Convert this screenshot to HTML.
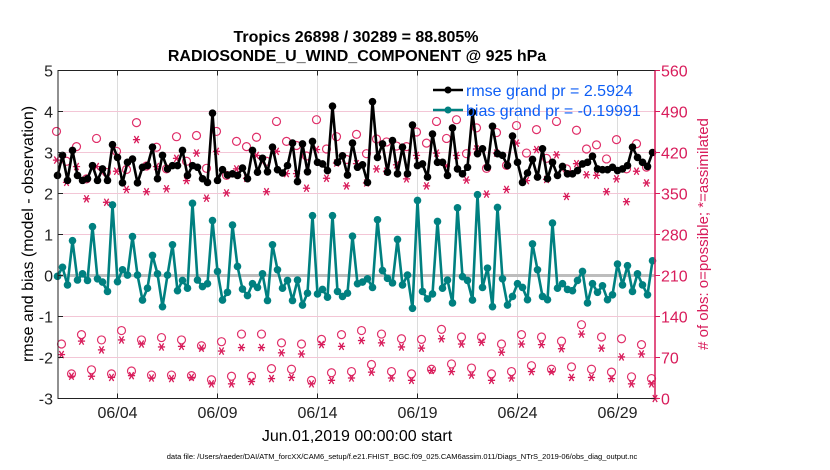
<!DOCTYPE html>
<html><head><meta charset="utf-8"><style>
body{margin:0;background:#fff;width:830px;height:470px;overflow:hidden}
svg{display:block;font-family:"Liberation Sans",Arial,sans-serif}
</style></head><body>
<svg id="chart" width="830" height="470" viewBox="0 0 830 470" xmlns="http://www.w3.org/2000/svg">
<text x="356" y="42" text-anchor="middle" font-size="16" font-weight="bold">Tropics 26898 / 30289 = 88.805%</text>
<text x="357" y="61" text-anchor="middle" font-size="16" font-weight="bold">RADIOSONDE_U_WIND_COMPONENT @ 925 hPa</text>
<g id="grid"></g>
<g id="marks"></g>
<g id="axes"></g>
<g>
<line x1="433" y1="90" x2="463" y2="90" stroke="#000" stroke-width="2.5"/>
<circle cx="448" cy="90" r="3.5" fill="#000"/>
<text x="466" y="96" font-size="16" fill="#0d5ef5">rmse grand pr = 2.5924</text>
<line x1="433" y1="110" x2="463" y2="110" stroke="#008080" stroke-width="2.5"/>
<circle cx="448" cy="110" r="3.5" fill="#008080"/>
<text x="466" y="116" font-size="16" fill="#0d5ef5">bias grand pr = -0.19991</text>
</g>
<text transform="translate(33,234) rotate(-90)" text-anchor="middle" font-size="16">rmse and bias (model - observation)</text>
<text transform="translate(708,234) rotate(-90)" text-anchor="middle" font-size="15" fill="#d81b5a"># of obs: o=possible; *=assimilated</text>
<text x="357" y="441" text-anchor="middle" font-size="16">Jun.01,2019 00:00:00 start</text>
<text x="402" y="459" text-anchor="middle" font-size="7.5">data file: /Users/raeder/DAI/ATM_forcXX/CAM6_setup/f.e21.FHIST_BGC.f09_025.CAM6assim.011/Diags_NTrS_2019-06/obs_diag_output.nc</text>
</svg>
<script>
const rmse=[2.44,2.93,2.32,3.05,2.44,2.32,2.36,2.68,2.32,2.6,2.32,3.19,2.88,2.26,2.76,2.84,2.26,2.64,2.68,3.13,2.36,2.93,2.6,2.68,2.68,3.05,2.44,2.68,2.64,2.36,2.27,
3.96,2.32,2.58,2.45,2.48,2.44,2.62,2.36,3.05,2.52,2.86,2.53,3.13,2.58,2.5,2.68,3.23,2.29,3.21,2.53,3.27,2.76,2.72,2.56,4.13,2.76,2.92,2.45,3.23,2.64,
2.70,2.27,4.24,2.88,3.21,2.52,3.29,2.48,3.13,2.48,3.67,2.68,2.72,2.4,3.45,2.76,2.76,2.44,3.6,2.6,2.48,2.64,3.98,2.97,3.09,2.64,3.64,2.97,2.93,
2.68,3.4,2.76,2.27,2.5,2.83,2.4,3.09,2.36,2.76,2.44,2.66,2.48,2.48,2.56,2.72,2.76,2.91,2.6,2.58,2.58,2.64,2.56,2.6,2.68,3.13,2.88,2.76,2.66,3.0];
const bias=[-0.02,0.2,-0.23,0.85,-0.11,0.04,-0.12,1.19,-0.08,-0.16,-0.39,1.72,-0.15,0.14,0.01,0.95,0.01,-0.6,-0.31,0.49,0.04,-0.76,0.01,0.75,-0.37,-0.12,-0.31,1.76,-0.11,-0.27,-0.2,
1.34,0.1,-0.6,-0.41,1.23,0.22,-0.33,-0.49,-0.2,-0.29,0.04,-0.61,0.75,0.14,-0.31,-0.12,-0.61,-0.11,-0.72,-0.43,1.46,-0.45,-0.34,-0.53,1.46,-0.39,-0.51,-0.43,0.96,-0.2,
-0.16,-0.08,-0.29,1.36,0.12,-0.07,-0.18,0.88,-0.23,0.01,-0.8,1.83,-0.39,-0.57,-0.45,1.32,-0.31,-0.11,-0.67,1.65,-0.03,-0.12,-0.6,1.97,-0.29,0.18,-0.76,1.66,-0.08,
-0.72,-0.51,-0.2,-0.29,-0.59,0.77,0.14,-0.51,-0.59,1.28,-0.31,-0.2,-0.34,-0.37,-0.12,0.1,-0.67,-0.2,-0.41,-0.25,-0.59,-0.47,0.28,-0.23,0.24,-0.39,0.04,-0.23,-0.47,0.36];
const obsPossible=[456,93,405,42,430,109,375,49,444,100,386,42,422,116,391,47,471,100,397,40,429,104,392,40,447,100,405,39,449,90,
393,32,456,97,381,38,439,110,430,38,446,110,405,51,473,95,439,50,432,93,414,31,476,101,426,44,447,109,408,46,
451,116,418,58,443,110,438,46,431,102,430,42,455,101,436,50,473,118,444,59,476,105,418,52,462,105,393,42,454,93,
398,46,466,109,419,56,459,105,410,50,473,98,392,54,458,126,426,50,433,105,409,45,442,102,392,37,435,92,395,34];
const obsAssim=[407,75,369,38,396,98,341,38,396,83,335,36,388,100,357,39,442,93,353,35,396,88,358,34,410,89,372,36,419,86,
342,25,422,81,351,25,392,87,376,29,415,87,353,34,422,78,384,36,384,76,359,25,425,92,376,31,402,89,363,35,
401,99,368,45,392,95,388,35,399,88,375,31,415,86,363,48,419,102,397,46,415,93,373,40,426,96,349,31,419,79,
357,35,436,93,372,46,425,92,374,46,416,85,345,36,401,110,382,36,381,86,353,34,375,71,336,25,388,76,368,25];
const dayTicks=[3,8,13,18,23,28];
const dayLabels=["06/04","06/09","06/14","06/19","06/24","06/29"];
const leftTicks=[5,4,3,2,1,0,-1,-2,-3];
const rightTicks=[560,490,420,350,280,210,140,70,0];
const stepDays=0.25;

const NS="http://www.w3.org/2000/svg";
const L=58,R=655,T=70.5,B=398.5;
const xS=t=>57.5+20*t;
const yL=v=>T+(5-v)*(B-T)/8;
const yR=v=>B-v*(B-T)/560;
function mk(tag,attrs,parent){const e=document.createElementNS(NS,tag);for(const k in attrs)e.setAttribute(k,attrs[k]);parent.appendChild(e);return e;}
const grid=document.getElementById('grid'),marks=document.getElementById('marks'),axes=document.getElementById('axes');
dayTicks.forEach((d,i)=>{
 const g=mk('line',{x1:xS(d),x2:xS(d),y1:T,y2:B,stroke:'#dcdcdc','stroke-width':1},grid);
 
 
 const t=mk('text',{x:xS(d),y:418,'text-anchor':'middle','font-size':16,fill:'#222'},axes);
 t.textContent=dayLabels[i];
 
 
 mk('line',{x1:xS(d),x2:xS(d),y1:T,y2:T+5,stroke:'#222'},axes);
 mk('line',{x1:xS(d),x2:xS(d),y1:B,y2:B-5,stroke:'#222'},axes);
});
rightTicks.forEach(v=>{
 const g=mk('line',{x1:L,x2:R,y1:yR(v),y2:yR(v),stroke:'#f3c6d6','stroke-width':1},grid);
 
 
 const t=mk('text',{x:661,y:yR(v)+6,'font-size':16,fill:'#d81b5a'},axes);
 t.textContent=v;
 
 
 mk('line',{x1:R,x2:R+5,y1:yR(v),y2:yR(v),stroke:'#d81b5a'},axes);
});
leftTicks.forEach(v=>{
 const t=mk('text',{x:53,y:yL(v)+6,'text-anchor':'end','font-size':16,fill:'#222'},axes);
 t.textContent=v;
 
 
 mk('line',{x1:L,x2:L+5,y1:yL(v),y2:yL(v),stroke:'#222'},axes);
});
const zl=mk('line',{x1:L,x2:R,y1:yL(0),y2:yL(0),stroke:'#bdbdbd','stroke-width':3},grid);


mk('rect',{x:L,y:T,width:R-L,height:B-T,fill:'none',stroke:'#222','stroke-width':1},axes);
mk('line',{x1:R,x2:R,y1:T,y2:B,stroke:'#d81b5a','stroke-width':1.5},axes);

function star(x,y,parent){
 const s=3.6,g=mk('g',{stroke:'#d81b5a','stroke-width':1.3},parent);
 mk('line',{x1:x-s,x2:x+s,y1:y,y2:y},g);
 mk('line',{x1:x-s*0.6,x2:x+s*0.6,y1:y-s,y2:y+s},g);
 mk('line',{x1:x-s*0.6,x2:x+s*0.6,y1:y+s,y2:y-s},g);
 return g;
}
obsPossible.forEach((v,i)=>{
 const c=mk('circle',{cx:xS(i*stepDays)-1,cy:yR(v),r:4,fill:'none',stroke:'#e0306a','stroke-width':1.2},marks);
 
 
});
obsAssim.forEach((v,i)=>{
 const g=star(xS(i*stepDays)-1,yR(v),marks);
 
 
});
function series(arr,color,name){
 const pts=arr.map((v,i)=>xS(i*stepDays).toFixed(1)+','+yL(v).toFixed(1)).join(' ');
 const pl=mk('polyline',{points:pts,fill:'none',stroke:color,'stroke-width':2.6,'stroke-linejoin':'round'},marks);
 
 
 arr.forEach((v,i)=>{
  const c=mk('circle',{cx:xS(i*stepDays),cy:yL(v),r:3.8,fill:color},marks);
  
  
 });
}
series(rmse,'#000','rmse');
series(bias,'#008080','bias');
const z=star(R,B,marks);


</script>
</body></html>
